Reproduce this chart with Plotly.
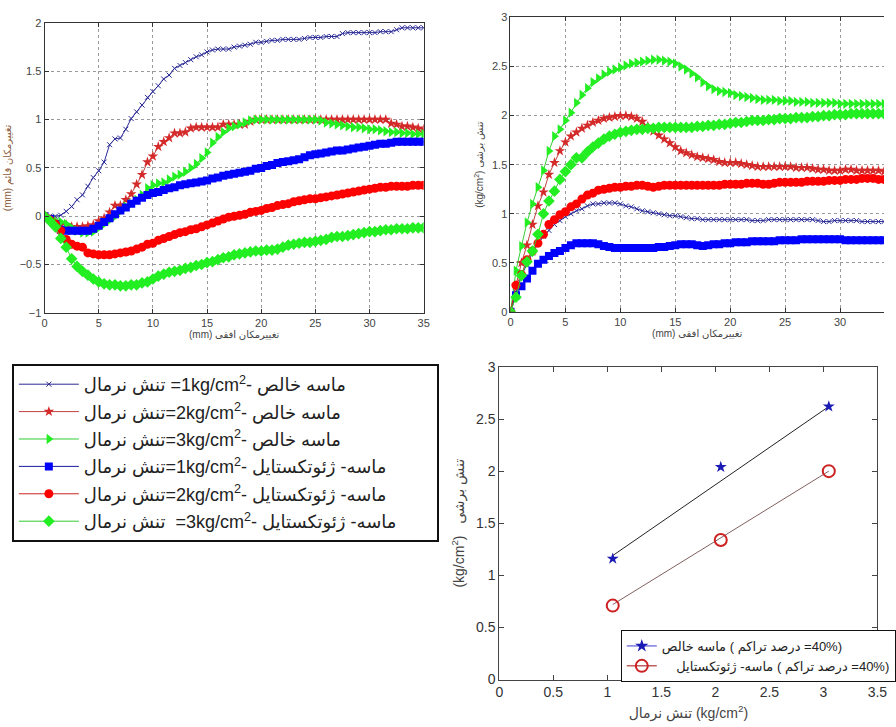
import plotly.graph_objects as go

# ---------------- data ----------------
# horizontal displacement (mm), 0.5 mm steps
disp = [i * 0.5 for i in range(71)]

# vertical displacement (mm) - top-left chart
v_sand1 = [0, 0, 0, 0.01, 0.05, 0.10, 0.17, 0.22, 0.31, 0.40,
           0.47, 0.56, 0.74, 0.80, 0.81, 0.90, 1.01, 1.08, 1.15, 1.23,
           1.29, 1.35, 1.42, 1.46, 1.53, 1.56, 1.59, 1.62, 1.65, 1.67,
           1.70, 1.72, 1.73, 1.73, 1.73, 1.75, 1.76, 1.77, 1.78, 1.80,
           1.80, 1.81, 1.82, 1.82, 1.83, 1.83, 1.83, 1.83, 1.84, 1.85,
           1.85, 1.85, 1.86, 1.86, 1.86, 1.89, 1.90, 1.90, 1.90, 1.90,
           1.90, 1.90, 1.91, 1.91, 1.91, 1.93, 1.95, 1.95, 1.95, 1.95,
           1.95]
v_sand2 = [0, -0.03, -0.06, -0.08, -0.09, -0.11, -0.11, -0.11, -0.10, -0.09,
           -0.05, -0.02, 0.04, 0.11, 0.11, 0.17, 0.23, 0.33, 0.43, 0.56,
           0.62, 0.72, 0.77, 0.81, 0.86, 0.86, 0.87, 0.91, 0.92, 0.92,
           0.92, 0.92, 0.92, 0.95, 0.95, 0.95, 0.95, 0.95, 0.98, 1.0,
           1.0, 1.0, 1.0, 1.0, 1.0, 1.0, 1.0, 1.0, 1.0, 1.0,
           1.0, 1.0, 1.0, 1.0, 1.0, 1.0, 1.0, 1.0, 1.0, 1.0,
           1.0, 1.0, 1.0, 1.0, 0.96, 0.95, 0.93, 0.93, 0.92, 0.91,
           0.90]
v_sand3 = [0, -0.03, -0.05, -0.06, -0.08, -0.12, -0.15, -0.17, -0.17, -0.16,
           -0.12, -0.08, -0.04, 0.0, 0.05, 0.10, 0.13, 0.17, 0.22, 0.29,
           0.32, 0.34, 0.35, 0.38, 0.41, 0.43, 0.46, 0.50, 0.54, 0.60,
           0.66, 0.76, 0.82, 0.87, 0.91, 0.93, 0.95, 0.97, 0.99, 1.0,
           1.0, 1.0, 1.0, 1.0, 1.0, 1.0, 1.0, 1.0, 1.0, 1.0,
           1.0, 0.99, 0.97, 0.96, 0.95, 0.94, 0.93, 0.92, 0.92, 0.91,
           0.90, 0.90, 0.89, 0.88, 0.87, 0.87, 0.86, 0.86, 0.85, 0.85,
           0.85]
v_geo1 = [0, -0.03, -0.08, -0.14, -0.15, -0.15, -0.15, -0.15, -0.15, -0.13,
          -0.10, -0.06, -0.02, 0.02, 0.06, 0.09, 0.13, 0.16, 0.19, 0.22,
          0.24, 0.25, 0.27, 0.29, 0.30, 0.32, 0.33, 0.34, 0.35, 0.36,
          0.37, 0.39, 0.40, 0.42, 0.43, 0.44, 0.45, 0.46, 0.47, 0.49,
          0.50, 0.52, 0.53, 0.55, 0.56, 0.57, 0.58, 0.59, 0.61, 0.63,
          0.64, 0.65, 0.66, 0.67, 0.68, 0.68, 0.69, 0.70, 0.71, 0.72,
          0.73, 0.74, 0.75, 0.75, 0.76, 0.77, 0.77, 0.77, 0.77, 0.77,
          0.77]
v_geo2 = [0, -0.04, -0.08, -0.15, -0.24, -0.29, -0.31, -0.32, -0.38, -0.39,
          -0.40, -0.40, -0.40, -0.39, -0.38, -0.37, -0.36, -0.34, -0.32, -0.29,
          -0.28, -0.25, -0.23, -0.21, -0.19, -0.17, -0.16, -0.14, -0.13, -0.11,
          -0.09, -0.07, -0.05, -0.03, -0.01, 0.0, 0.01, 0.02, 0.04, 0.05,
          0.06, 0.08, 0.09, 0.11, 0.12, 0.13, 0.15, 0.16, 0.17, 0.18,
          0.18, 0.19, 0.20, 0.21, 0.22, 0.23, 0.24, 0.25, 0.26, 0.27,
          0.28, 0.29, 0.30, 0.30, 0.31, 0.31, 0.31, 0.31, 0.32, 0.32,
          0.32]
v_geo3 = [0, -0.05, -0.11, -0.23, -0.32, -0.44, -0.52, -0.57, -0.61, -0.65,
          -0.68, -0.70, -0.71, -0.71, -0.72, -0.72, -0.71, -0.71, -0.69, -0.68,
          -0.65, -0.62, -0.60, -0.58, -0.57, -0.56, -0.54, -0.53, -0.51, -0.50,
          -0.48, -0.47, -0.45, -0.43, -0.42, -0.40, -0.39, -0.38, -0.37, -0.36,
          -0.36, -0.35, -0.35, -0.34, -0.32, -0.30, -0.29, -0.28, -0.27, -0.27,
          -0.26, -0.25, -0.24, -0.22, -0.21, -0.21, -0.20, -0.19, -0.18, -0.17,
          -0.16, -0.16, -0.15, -0.14, -0.14, -0.13, -0.13, -0.13, -0.12, -0.12,
          -0.12]

# shear stress (kg/cm2) - top-right chart
t_sand1 = [0, 0.20, 0.37, 0.48, 0.60, 0.69, 0.77, 0.83, 0.89, 0.93,
           0.97, 1.00, 1.03, 1.05, 1.08, 1.10, 1.10, 1.11, 1.11, 1.11,
           1.10, 1.08, 1.07, 1.05, 1.03, 1.02, 1.01, 1.00, 0.99, 0.98,
           0.98, 0.97, 0.96, 0.95, 0.95, 0.94, 0.94, 0.94, 0.94, 0.94,
           0.94, 0.94, 0.94, 0.94, 0.93, 0.93, 0.93, 0.94, 0.94, 0.94,
           0.94, 0.94, 0.94, 0.94, 0.94, 0.94, 0.93, 0.92, 0.92, 0.93,
           0.93, 0.93, 0.93, 0.93, 0.92, 0.92, 0.92, 0.92, 0.92, 0.92,
           0.92]
t_sand2 = [0, 0.27, 0.50, 0.68, 0.89, 1.08, 1.22, 1.40, 1.52, 1.64,
           1.73, 1.79, 1.83, 1.87, 1.90, 1.93, 1.95, 1.97, 1.98, 1.99,
           2.00, 2.00, 1.99, 1.97, 1.94, 1.89, 1.84, 1.80, 1.76, 1.72,
           1.68, 1.64, 1.62, 1.60, 1.58, 1.57, 1.56, 1.55, 1.53, 1.52,
           1.52, 1.52, 1.51, 1.50, 1.49, 1.48, 1.48, 1.48, 1.48, 1.48,
           1.48, 1.48, 1.47, 1.47, 1.47, 1.46, 1.45, 1.45, 1.44, 1.44,
           1.44, 1.45, 1.45, 1.44, 1.44, 1.44, 1.44, 1.44, 1.43, 1.43,
           1.43]
t_sand3 = [0, 0.42, 0.67, 0.91, 1.10, 1.27, 1.44, 1.64, 1.79, 1.86,
           1.95, 2.03, 2.13, 2.21, 2.28, 2.34, 2.38, 2.42, 2.45, 2.47,
           2.49, 2.51, 2.53, 2.54, 2.55, 2.56, 2.57, 2.57, 2.56, 2.55,
           2.53, 2.50, 2.47, 2.43, 2.39, 2.34, 2.30, 2.27, 2.25, 2.24,
           2.23, 2.21, 2.20, 2.19, 2.18, 2.17, 2.16, 2.16, 2.16, 2.15,
           2.15, 2.15, 2.14, 2.14, 2.14, 2.13, 2.13, 2.13, 2.13, 2.13,
           2.12, 2.12, 2.12, 2.12, 2.12, 2.12, 2.12, 2.12, 2.12, 2.12,
           2.12]
t_geo1 = [0, 0.17, 0.26, 0.34, 0.42, 0.49, 0.53, 0.57, 0.60, 0.62,
          0.65, 0.68, 0.70, 0.70, 0.70, 0.70, 0.69, 0.67, 0.66, 0.65,
          0.65, 0.65, 0.65, 0.65, 0.65, 0.65, 0.65, 0.66, 0.66, 0.67,
          0.68, 0.69, 0.69, 0.69, 0.68, 0.67, 0.68, 0.69, 0.69, 0.70,
          0.70, 0.71, 0.71, 0.71, 0.72, 0.72, 0.72, 0.72, 0.72, 0.73,
          0.73, 0.73, 0.73, 0.74, 0.74, 0.74, 0.74, 0.74, 0.74, 0.74,
          0.74, 0.73, 0.73, 0.73, 0.73, 0.73, 0.73, 0.73, 0.73, 0.73,
          0.73]
t_geo2 = [0, 0.27, 0.38, 0.53, 0.62, 0.70, 0.79, 0.89, 0.94, 0.99,
          1.02, 1.07, 1.10, 1.15, 1.19, 1.21, 1.24, 1.25, 1.26, 1.27,
          1.27, 1.28, 1.28, 1.29, 1.29, 1.28, 1.27, 1.28, 1.29, 1.29,
          1.29, 1.29, 1.29, 1.29, 1.29, 1.29, 1.29, 1.29, 1.29, 1.30,
          1.30, 1.30, 1.30, 1.31, 1.31, 1.31, 1.30, 1.30, 1.31, 1.32,
          1.32, 1.32, 1.32, 1.32, 1.33, 1.33, 1.33, 1.33, 1.34, 1.34,
          1.34, 1.35, 1.35, 1.35, 1.36, 1.36, 1.36, 1.35, 1.35, 1.35,
          1.35]
t_geo3 = [0, 0.15, 0.37, 0.51, 0.62, 0.79, 1.00, 1.13, 1.23, 1.35,
          1.43, 1.50, 1.57, 1.57, 1.63, 1.68, 1.72, 1.76, 1.79, 1.81,
          1.83, 1.84, 1.85, 1.86, 1.86, 1.87, 1.87, 1.88, 1.88, 1.88,
          1.88, 1.88, 1.88, 1.88, 1.89, 1.89, 1.90, 1.90, 1.91, 1.91,
          1.92, 1.93, 1.93, 1.94, 1.95, 1.95, 1.95, 1.96, 1.96, 1.97,
          1.97, 1.97, 1.98, 1.98, 1.98, 1.99, 1.99, 2.00, 2.00, 2.01,
          2.01, 2.01, 2.02, 2.02, 2.02, 2.02, 2.02, 2.02, 2.02, 2.02,
          2.02]

# failure envelope (bottom-right chart)
normal_stress = [1.05, 2.05, 3.05]
peak_sand = [1.16, 2.04, 2.62]
peak_geo = [0.71, 1.34, 2.00]
fit_x = [1.05, 3.05]
fit_sand = [1.19, 2.62]
fit_geo = [0.72, 2.00]

# ---------------- labels ----------------
LRM = "\u200e"
PAD = "\u00a0" * 7
leg_labels = [
    "تنش نرمال" + LRM + " =1kg/cm<sup>2</sup>- ماسه خالص" + PAD,
    "تنش نرمال" + LRM + "=2kg/cm<sup>2</sup>- ماسه خالص" + PAD,
    "تنش نرمال" + LRM + "=3kg/cm<sup>2</sup>- ماسه خالص" + PAD,
    "تنش نرمال" + LRM + "=1kg/cm<sup>2</sup>- ماسه- ژئوتکستایل" + PAD,
    "تنش نرمال" + LRM + "=2kg/cm<sup>2</sup>- ماسه- ژئوتکستایل" + PAD,
    "تنش نرمال" + LRM + "\u00a0\u00a0=3kg/cm<sup>2</sup>- ماسه- ژئوتکستایل" + PAD,
]
leg3_labels = [
    "ماسه خالص" + LRM + " ( درصد تراکم" + LRM + " =40%)",
    "\u00a0\u00a0\u00a0\u00a0ماسه- ژئوتکستایل" + LRM + " ( درصد تراکم" + LRM + " =40%)",
]

FONT = "Arial, 'Liberation Sans', 'DejaVu Sans', sans-serif"

styles = [
    dict(color="#2a2a96", symbol="x-thin", size=5, lw=1, mlw=1),
    dict(color="#d42a2a", symbol="star", size=8, lw=1, mlw=0),
    dict(color="#22ee22", symbol="triangle-right", size=9, lw=1, mlw=0),
    dict(color="#0000ff", symbol="square", size=8, lw=1, mlw=0),
    dict(color="#ff0000", symbol="circle", size=9, lw=1, mlw=0),
    dict(color="#22ee22", symbol="diamond", size=9, lw=1, mlw=0),
]
line_cols = ["#2a2a96", "#c04040", "#33cc33", "#1a1aa0", "#cc2222", "#33cc33"]

fig = go.Figure()

vert = [v_sand1, v_sand2, v_sand3, v_geo1, v_geo2, v_geo3]
shear = [t_sand1, t_sand2, t_sand3, t_geo1, t_geo2, t_geo3]

for i, (ys, st) in enumerate(zip(vert, styles)):
    fig.add_trace(go.Scatter(
        x=disp, y=ys, mode="lines+markers", xaxis="x", yaxis="y",
        name=leg_labels[i], legend="legend", legendgroup=f"g{i}",
        line=dict(color=line_cols[i], width=st["lw"]),
        marker=dict(symbol=st["symbol"], size=st["size"], color=st["color"],
                    line=dict(color=st["color"], width=st["mlw"])),
    ))

for i, (ys, st) in enumerate(zip(shear, styles)):
    fig.add_trace(go.Scatter(
        x=disp, y=ys, mode="lines+markers", xaxis="x2", yaxis="y2",
        showlegend=False,
        line=dict(color=line_cols[i], width=st["lw"]),
        marker=dict(symbol=st["symbol"], size=st["size"], color=st["color"],
                    line=dict(color=st["color"], width=st["mlw"])),
    ))

# bottom-right chart
fig.add_trace(go.Scatter(x=fit_x, y=fit_sand, mode="lines", xaxis="x3", yaxis="y3",
                         line=dict(color="#222222", width=1), showlegend=False))
fig.add_trace(go.Scatter(x=fit_x, y=fit_geo, mode="lines", xaxis="x3", yaxis="y3",
                         line=dict(color="#806060", width=1), showlegend=False))
fig.add_trace(go.Scatter(x=normal_stress, y=peak_sand, mode="markers", xaxis="x3", yaxis="y3",
                         marker=dict(symbol="star", size=9, color="#1a1ab4"), showlegend=False))
fig.add_trace(go.Scatter(x=normal_stress, y=peak_geo, mode="markers", xaxis="x3", yaxis="y3",
                         marker=dict(symbol="circle-open", size=12, color="#cc2222",
                                     line=dict(width=2)), showlegend=False))
# legend entries of bottom-right chart
fig.add_trace(go.Scatter(x=[None], y=[None], mode="lines+markers", xaxis="x3", yaxis="y3",
                         name=leg3_labels[0], legend="legend2",
                         line=dict(color="#3a3ad0", width=1),
                         marker=dict(symbol="star", size=10, color="#1a1ab4")))
fig.add_trace(go.Scatter(x=[None], y=[None], mode="lines+markers", xaxis="x3", yaxis="y3",
                         name=leg3_labels[1], legend="legend2",
                         line=dict(color="#c06060", width=1.5),
                         marker=dict(symbol="circle-open", size=12, color="#cc2222",
                                     line=dict(width=2))))

W, H = 896, 727
def px(x): return x / W
def py(y): return 1 - y / H

axis_common = dict(showline=True, linecolor="#333", linewidth=1, ticks="inside", ticklen=4,
                   tickcolor="#333", zeroline=False,
                   tickfont=dict(family=FONT, size=11, color="#444"))
grid = dict(showgrid=True, gridcolor="#9a9a9a", griddash="dot", gridwidth=1)

fig.update_layout(
    width=W, height=H, margin=dict(l=0, r=0, t=0, b=0),
    paper_bgcolor="white", plot_bgcolor="white",
    font=dict(family=FONT, color="#333"),
    xaxis=dict(domain=[px(41.3), px(427.3)], range=[0, 35], dtick=5, mirror="ticks",
               anchor="y", title=dict(text="(mm) تغییرمکان افقی", font=dict(size=10, color="#444"), standoff=2),
               **axis_common, **grid),
    yaxis=dict(domain=[py(311.7), py(15.3)], range=[-1, 2], dtick=0.5, mirror="ticks",
               anchor="x", title=dict(text="(mm) تغییرمکان قائم", font=dict(size=10, color="#8a5a3a"), standoff=6),
               **axis_common, **grid),
    xaxis2=dict(domain=[px(515.7), 1.0], range=[0, 34.0], tickvals=[0, 5, 10, 15, 20, 25, 30],
                mirror="ticks", anchor="y2",
                title=dict(text="(mm) تغییرمکان افقی", font=dict(size=10, color="#444"), standoff=2),
                **axis_common, **grid),
    yaxis2=dict(domain=[py(310.7), py(9.7)], range=[0, 3], dtick=0.5, mirror=False,
                anchor="x2",
                title=dict(text="(kg/cm<sup>2</sup>) تنش برشی", font=dict(size=10, color="#444"), standoff=6),
                **axis_common, **grid),
    xaxis3=dict(domain=[px(504.3), px(889.3)], range=[0, 3.5], dtick=0.5, mirror="ticks",
                anchor="y3", showline=True, linecolor="#444", ticks="inside", ticklen=5,
                tickcolor="#444", zeroline=False, showgrid=False,
                tickfont=dict(family=FONT, size=14, color="#333"),
                title=dict(text="تنش نرمال (kg/cm<sup>2</sup>)", font=dict(size=14, color="#444"), standoff=8)),
    yaxis3=dict(domain=[py(686.7), py(367)], range=[0, 3], dtick=0.5, mirror="ticks",
                anchor="x3", showline=True, linecolor="#444", ticks="inside", ticklen=5,
                tickcolor="#444", zeroline=False, showgrid=False,
                tickfont=dict(family=FONT, size=14, color="#333"),
                title=dict(text="(kg/cm<sup>2</sup>)   تنش برشی", font=dict(size=14, color="#444"), standoff=8)),
    legend=dict(x=px(8), y=py(364), xanchor="left", yanchor="top",
                bgcolor="white", bordercolor="#111", borderwidth=2,
                font=dict(family=FONT, size=18, color="#222"),
                itemwidth=60, tracegroupgap=1, traceorder="grouped"),
    legend2=dict(x=px(628), y=py(636), xanchor="left", yanchor="top",
                 bgcolor="white", bordercolor="#111", borderwidth=1,
                 font=dict(family=FONT, size=13, color="#222"),
                 itemwidth=30, tracegroupgap=0),
)

fig.write_html("out.html")
